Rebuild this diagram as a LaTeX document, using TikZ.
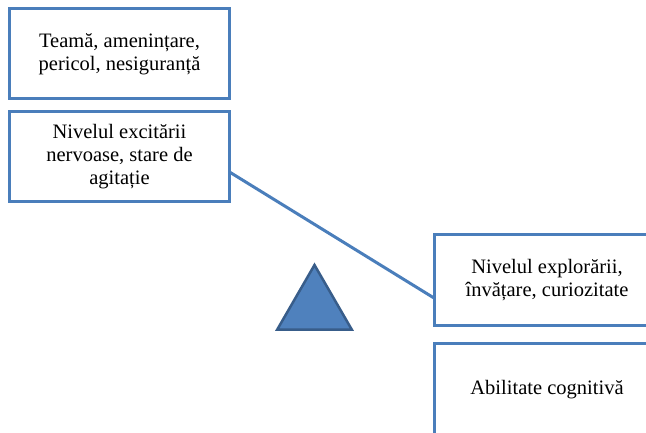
\documentclass[tikz,border=0pt]{standalone}
\usepackage{fontspec}
\setmainfont{Liberation Serif}
\usetikzlibrary{positioning, shapes.geometric}

\definecolor{boxblue}{HTML}{4A7EBB}
\definecolor{pivotfill}{HTML}{4F81BD}
\definecolor{pivotline}{HTML}{385D8A}

\begin{document}
\begin{tikzpicture}[node distance=13pt,
    stage/.style={draw=boxblue, line width=3pt, align=center, outer sep=0pt,
                  minimum width=220pt, minimum height=90pt,
                  font=\fontsize{20.5}{23}\selectfont}]
    \useasboundingbox (0,0) rectangle (646pt,-433pt);
    \clip (0,0) rectangle (646pt,-433pt);

    \node[stage]                                    (Fear)     at (119.5pt,-54pt) {Teamă, amenințare,\\pericol, nesiguranță};
    \node[stage, below=13pt of Fear]                (Arousal)  {Nivelul excitării\\nervoase, stare de\\agitație};
    \node[stage, minimum width=226pt,
          below right=33pt and 204.5pt of Arousal]  (Explore)  {Nivelul explorării,\\învățare, curiozitate};
    \node[stage, minimum width=226pt, minimum height=94pt,
          below=18pt of Explore]                    (Cognition) {Abilitate cognitivă};

    \node[regular polygon, regular polygon sides=3, minimum size=86pt, inner sep=0pt,
          fill=pivotfill, draw=pivotline, line width=2.5pt] (Pivot) at (314.5pt,-308pt) {};

    \draw[boxblue, line width=3pt] ([yshift=-15pt]Arousal.east) -- ([yshift=-18pt]Explore.west);
\end{tikzpicture}
\end{document}
